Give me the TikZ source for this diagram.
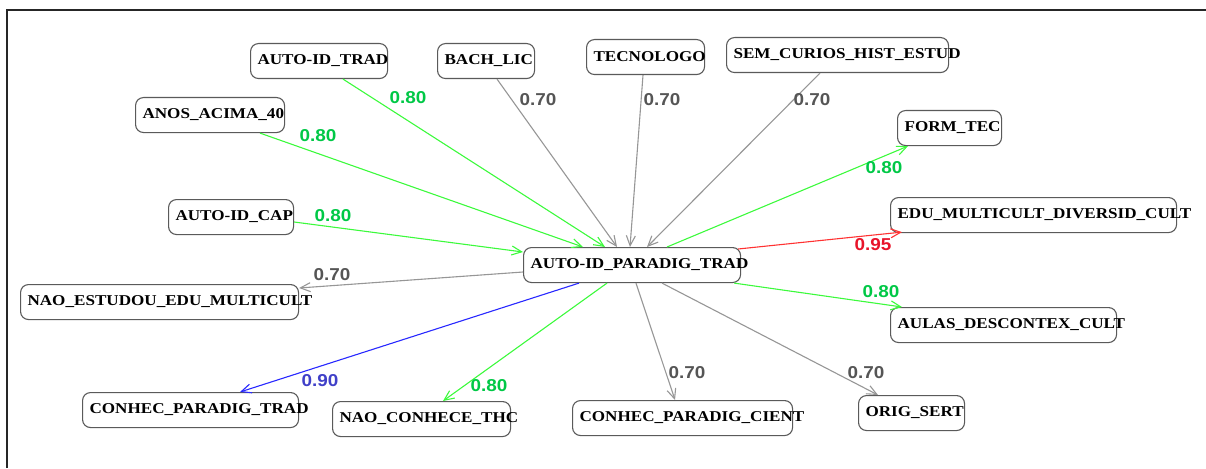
\documentclass[tikz,border=0pt]{standalone}
\usepackage{fontspec}
\newfontfamily\boxfont[FakeStretch=1.14]{Liberation Serif}
\newfontfamily\lblfont[FakeStretch=1.1]{Liberation Sans}
\usetikzlibrary{arrows.meta}
\definecolor{egreen}{RGB}{60,250,60}
\definecolor{lgreen}{RGB}{0,200,70}
\definecolor{egray}{RGB}{150,150,150}
\definecolor{lgray}{RGB}{85,85,85}
\definecolor{ered}{RGB}{255,50,50}
\definecolor{lred}{RGB}{232,20,42}
\definecolor{eblue}{RGB}{40,40,255}
\definecolor{lblue}{RGB}{64,64,200}
\definecolor{boxgray}{RGB}{90,90,90}
\newcommand\boxtxt[2]{\makebox[#1][l]{\hspace{7pt}#2}}
\begin{document}
\begin{tikzpicture}[x=1pt,y=-1pt,
  nbox/.style={draw=boxgray, line width=1.1pt, rounded corners=8pt, anchor=north west,
    inner sep=0pt, minimum height=35pt, font=\boxfont\bfseries\fontsize{15}{18}\selectfont},
  lbl/.style={inner sep=0pt, font=\lblfont\bfseries\fontsize{17.2}{18}\selectfont},
  edge/.style={-{Straight Barb[length=10pt,width=9pt]}, line width=1.1pt},
  eg/.style={edge, draw=egreen},
  ey/.style={edge, draw=egray},
  er/.style={edge, draw=ered},
  eb/.style={edge, draw=eblue}]
\useasboundingbox (0,0) rectangle (1206,468);
\draw[line width=1.5pt, black!85] (7,468) -- (7,10) -- (1206,10);

% nodes
\node[nbox] (trad)   at (250,43)  {\boxtxt{137pt}{AUTO-ID\_TRAD}};
\node[nbox] (anos)   at (135,97)  {\boxtxt{149pt}{ANOS\_ACIMA\_40}};
\node[nbox] (cap)    at (168,199) {\boxtxt{125pt}{AUTO-ID\_CAP}};
\node[nbox] (bach)   at (437,43)  {\boxtxt{97pt}{BACH\_LIC}};
\node[nbox] (tecn)   at (586,39)  {\boxtxt{118pt}{TECNOLOGO}};
\node[nbox] (sem)    at (726,37)  {\boxtxt{222pt}{SEM\_CURIOS\_HIST\_ESTUD}};
\node[nbox] (form)   at (897,110) {\boxtxt{104pt}{FORM\_TEC}};
\node[nbox] (edu)    at (890,197) {\boxtxt{286pt}{EDU\_MULTICULT\_DIVERSID\_CULT}};
\node[nbox] (c)      at (523,247) {\boxtxt{217pt}{AUTO-ID\_PARADIG\_TRAD}};
\node[nbox] (naoest) at (20,284)  {\boxtxt{278pt}{NAO\_ESTUDOU\_EDU\_MULTICULT}};
\node[nbox] (aulas)  at (890,307) {\boxtxt{226pt}{AULAS\_DESCONTEX\_CULT}};
\node[nbox] (ctrad)  at (82,392)  {\boxtxt{216pt}{CONHEC\_PARADIG\_TRAD}};
\node[nbox] (thc)    at (332,401) {\boxtxt{178pt}{NAO\_CONHECE\_THC}};
\node[nbox] (cient)  at (572,400) {\boxtxt{220pt}{CONHEC\_PARADIG\_CIENT}};
\node[nbox] (orig)   at (858,395) {\boxtxt{106pt}{ORIG\_SERT}};

% edges
\draw[eg] ([xshift=125pt]anos.south west) -- ([xshift=60pt]c.north west);
\draw[eg] ([xshift=93pt]trad.south west) -- ([xshift=82pt]c.north west);
\draw[eg] ([yshift=-23pt]cap.north east) -- ([yshift=-5pt]c.north west);
\draw[ey] ([xshift=60pt]bach.south west) -- ([xshift=94pt]c.north west);
\draw[ey] ([xshift=57pt]tecn.south west) -- ([xshift=107pt]c.north west);
\draw[ey] ([xshift=94pt]sem.south west) -- ([xshift=124pt]c.north west);
\draw[eg] ([xshift=144pt]c.north west) -- ([xshift=11pt]form.south west);
\draw[er] ([xshift=-3pt,yshift=-2pt]c.north east) -- ([xshift=12pt,yshift=1pt]edu.south west);
\draw[eg] ([xshift=-7pt]c.south east) -- ([xshift=12pt]aulas.north west);
\draw[ey] ([xshift=139pt]c.south west) -- ([xshift=20pt]orig.north west);
\draw[ey] ([xshift=113pt]c.south west) -- ([xshift=103pt]cient.north west);
\draw[eg] ([xshift=84pt]c.south west) -- ([xshift=111pt]thc.north west);
\draw[eb] ([xshift=56pt]c.south west) -- ([xshift=158pt]ctrad.north west);
\draw[ey] ([yshift=-25pt]c.north west) -- ([yshift=-4pt]naoest.north east);

% labels
\node[lbl, text=lgreen] (l1)  at (408,98)  {0.80};
\node[lbl, text=lgreen] (l2)  at (318,136) {0.80};
\node[lbl, text=lgreen] (l3)  at (333,216) {0.80};
\node[lbl, text=lgray]  (l4)  at (538,100) {0.70};
\node[lbl, text=lgray]  (l5)  at (662,100) {0.70};
\node[lbl, text=lgray]  (l6)  at (812,100) {0.70};
\node[lbl, text=lgreen] (l7)  at (884,168) {0.80};
\node[lbl, text=lred]   (l8)  at (873,245) {0.95};
\node[lbl, text=lgray]  (l9)  at (332,275) {0.70};
\node[lbl, text=lblue]  (l10) at (320,381) {0.90};
\node[lbl, text=lgreen] (l11) at (489,386) {0.80};
\node[lbl, text=lgray]  (l12) at (687,373) {0.70};
\node[lbl, text=lgreen] (l13) at (881,292) {0.80};
\node[lbl, text=lgray]  (l14) at (866,373) {0.70};
\end{tikzpicture}
\end{document}
